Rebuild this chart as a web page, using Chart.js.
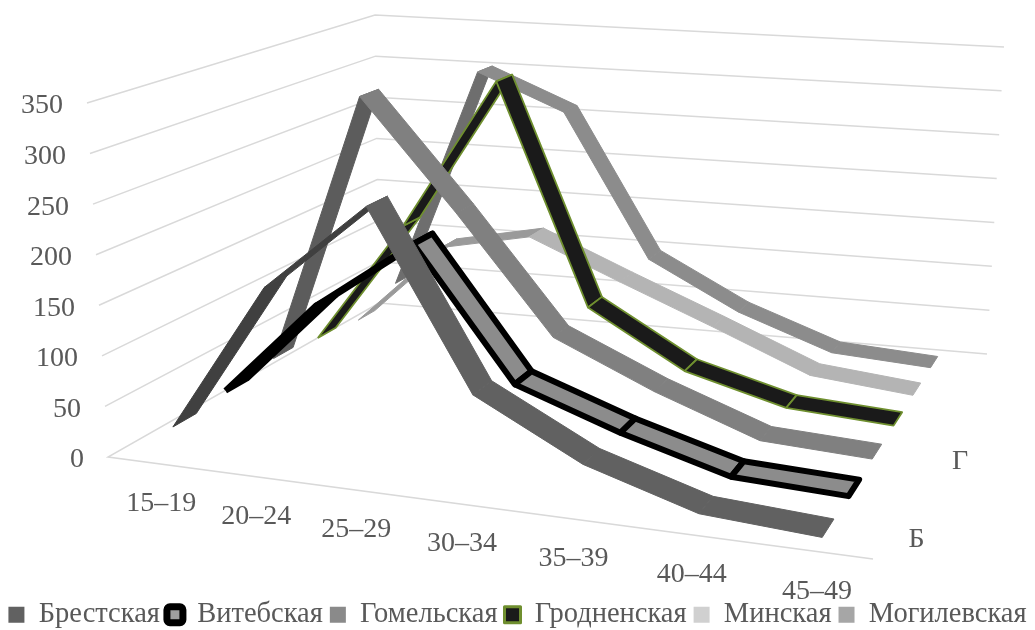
<!DOCTYPE html>
<html>
<head>
<meta charset="utf-8">
<style>
  html, body { margin: 0; background: #fff; overflow: hidden; height: 630px; }
  #wrap { position: relative; width: 1035px; height: 639px; }
</style>
<script src="https://cdn.jsdelivr.net/npm/chart.js@4/dist/chart.umd.min.js"></script>
</head>
<body>
<div id="wrap"><canvas id="chart3d"></canvas></div>
<script>
const categories = ["15–19", "20–24", "25–29", "30–34", "35–39", "40–44", "45–49"];
const valueTicks = [0, 50, 100, 150, 200, 250, 300, 350];
const seriesNames = ["Брестская", "Витебская", "Гомельская", "Гродненская", "Минская", "Могилевская"];
const seriesTicks = ["Б", "Г"];
const seriesTickIndex = [0, 2];

const brest = [27, 175, 263, 93, 40, 8, 1];
const vitebsk = [33, 130, 202, 72, 36, 6, 1];
const gomel = [38, 325, 210, 90, 45, 7, 1];
const grodno = [33, 165, 330, 94, 36, 8, 1];
const minsk = [27, 118, 138, 96, 55, 12, 1];
const mogilev = [45, 301, 260, 97, 45, 8, 1];
const seriesValues = [brest, vitebsk, gomel, grodno, minsk, mogilev];

const fillColors = ["#616161", "#8c8c8c", "#808080", "#1a1a1a", "#b4b4b4", "#8c8c8c"];
const risingColors = ["#404040", "#000000", "#5c5c5c", "#1a1a1a", "#9a9a9a", "#6e6e6e"];
const edgeColors = [null, "#000000", null, "#6f8f2f", null, null];
const edgeWidths = [1, 6, 1, 1.8, 1, 1];
const legendColors = ["#616161", "#a0a0a0", "#8a8a8a", "#1a1a1a", "#d0d0d0", "#a6a6a6"];
const legendEdgeWidths = [0, 7, 0, 3, 0, 0];
const textColor = "#595959";
const gridColor = "#d9d9d9";
const textFont = "28px 'Liberation Serif'";

// corners of the box on the page: front-left, front-right, back-right, back-left
const floorQuad = [[108, 457], [873, 559], [987, 354], [379, 303]];
const topQuad = [[87, 103], [890, 161], [1004, 47], [375, 15]];
const plotHeight = 593.5;
const ribbonHalf = 0.036;

function quadMap(q) {
  const [[x0, y0], [x1, y1], [x2, y2], [x3, y3]] = q;
  const dx1 = x1 - x2, dx2 = x3 - x2, sx = x0 - x1 + x2 - x3;
  const dy1 = y1 - y2, dy2 = y3 - y2, sy = y0 - y1 + y2 - y3;
  const den = dx1 * dy2 - dx2 * dy1;
  const g = (sx * dy2 - dx2 * sy) / den, h = (dx1 * sy - sx * dy1) / den;
  const a = x1 - x0 + g * x1, b = x3 - x0 + h * x3, d = y1 - y0 + g * y1, e = y3 - y0 + h * y3;
  return (u, w) => {
    const k = g * u + h * w + 1;
    return { x: (a * u + b * w + x0) / k, y: (d * u + e * w + y0) / k };
  };
}
const floorMap = quadMap(floorQuad);
const topMap = quadMap(topQuad);

function project(u, w, v) {
  const p = floorMap(u, w), t = topMap(u, w), f = v / 350;
  return { x: p.x + (t.x - p.x) * f, y: p.y + (t.y - p.y) * f };
}
const catU = (i) => (i + 0.55) / categories.length;
const serW = (s) => (s + 0.5) / seriesNames.length;

const datasets = [];
seriesValues.forEach((vals, s) => {
  for (let i = vals.length - 2; i >= 0; i--) {
    const rising = vals[i + 1] > vals[i];
    const color = rising ? risingColors[s] : fillColors[s];
    const w0 = serW(s) - ribbonHalf, w1 = serW(s) + ribbonHalf;
    const a = project(catU(i), w0, vals[i]), b = project(catU(i + 1), w0, vals[i + 1]);
    const c = project(catU(i + 1), w1, vals[i + 1]), d = project(catU(i), w1, vals[i]);
    datasets.push({
      label: i === 0 ? seriesNames[s] : "",
      seriesIndex: s,
      inLegend: i === 0,
      data: [a, b, c, d, a],
      showLine: true,
      fill: "shape",
      tension: 0,
      pointRadius: 0,
      backgroundColor: color,
      borderColor: edgeColors[s] || color,
      borderWidth: edgeWidths[s],
      borderJoinStyle: "round",
    });
  }
});
valueTicks.forEach((v) => {
  const line = [project(0, 0, v), project(0, 1, v), project(1, 1, v)];
  if (v === 0) line.unshift(project(1, 0, v));
  datasets.push({ label: "", inLegend: false, data: line, showLine: true, fill: false, tension: 0, pointRadius: 0, borderColor: gridColor, borderWidth: 1.5 });
});

const boxText = {
  id: "boxText",
  afterDraw(chart) {
    const { ctx, scales } = chart;
    const put = (txt, p, dx, dy, align) => {
      ctx.textAlign = align;
      ctx.fillText(txt, scales.x.getPixelForValue(p.x) + dx, scales.y.getPixelForValue(p.y) + dy);
    };
    ctx.save();
    ctx.font = textFont;
    ctx.fillStyle = textColor;
    ctx.textBaseline = "middle";
    valueTicks.forEach((v) => put(String(v), project(0, 0, v), -24, 3, "right"));
    categories.forEach((c, i) => put(c, project(catU(i), 0, 0), 3, 40, "center"));
    seriesTicks.forEach((c, i) => put(c, project(1, serW(seriesTickIndex[i]), 0), 31, 3, "center"));
    ctx.restore();
  },
};

new Chart(document.getElementById("chart3d"), {
  type: "scatter",
  data: { datasets },
  plugins: [boxText],
  options: {
    responsive: true,
    maintainAspectRatio: false,
    animation: false,
    layout: { padding: 0 },
    scales: {
      x: { type: "linear", display: false, min: 0, max: 1035 },
      y: { type: "linear", display: false, min: 0, max: plotHeight, reverse: true },
    },
    plugins: {
      tooltip: { enabled: false },
      legend: {
        position: "bottom",
        labels: {
          boxWidth: 16,
          boxHeight: 16,
          padding: 7,
          color: textColor,
          font: { family: "'Liberation Serif'", size: 28.5 },
          useBorderRadius: true,
          filter: (item, data) => data.datasets[item.datasetIndex].inLegend,
          generateLabels(chart) {
            return Chart.defaults.plugins.legend.labels.generateLabels(chart).map((item) => {
              const s = chart.data.datasets[item.datasetIndex].seriesIndex;
              if (s === undefined) return item;
              item.fillStyle = legendColors[s];
              item.lineWidth = legendEdgeWidths[s];
              item.borderRadius = s === 1 ? 3 : 0;
              return item;
            });
          },
        },
      },
    },
  },
});
</script>
</body>
</html>
